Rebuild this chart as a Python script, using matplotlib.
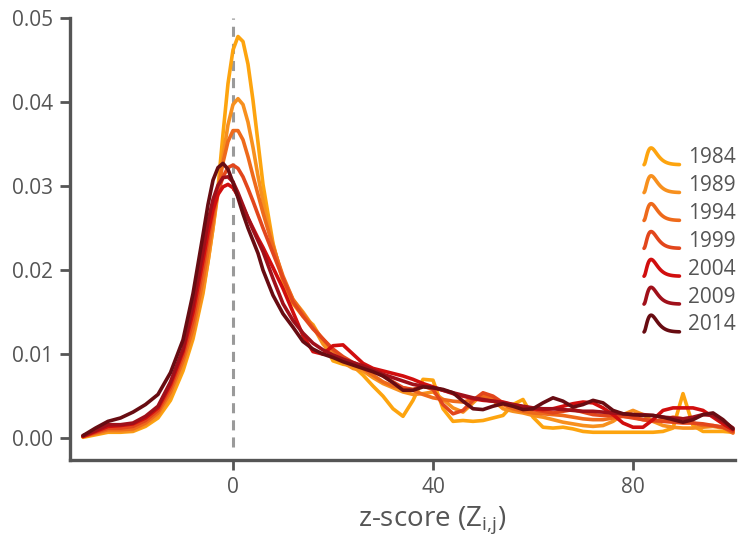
import numpy as np
import matplotlib
matplotlib.use("Agg")
import matplotlib.pyplot as plt
from matplotlib.legend_handler import HandlerBase
from matplotlib.lines import Line2D

plt.rcParams['font.family'] = ['Open Sans', 'DejaVu Sans']

years = ["1984", "1989", "1994", "1999", "2004", "2009", "2014"]
colors = ["#FDA40F", "#F7901E", "#EE6A1B", "#E2461C", "#D10E0E", "#A0101A", "#680C12"]

x_left = [-30, -27.5, -25, -22.5, -20, -17.5, -15, -12.5, -10]
x_peak = [-8, -6, -5, -4, -3, -2, -1, 0, 1, 2, 3, 4, 5, 6, 8, 10]
x_tail = list(range(12, 101, 2))
zscore = np.array(x_left + x_peak + x_tail, dtype=float)

d1984 = ([.0001, .0004, .0007, .0007, .0008, .0014, .0024, .0045, .0080]
         + [.0118, .0172, .0210, .0250, .0298, .0362, .0422, .0462, .0478, .0472, .0445, .0402, .0352, .0302, .0232, .0186]
         + [.0160, .0145, .0135, .0115, .0092, .0088, .0086, .0075, .0062, .0050, .0035, .0026, .0045, .0070, .0069,
            .0035, .0020, .0021, .0020, .0021, .0024, .0027, .0040, .0046, .0025, .0013, .0012, .0013, .0011, .0008,
            .0007, .0007, .0007, .0007, .0007, .0007, .0007, .0008, .0012, .0053, .0015, .0008, .0008, .0008, .0007])
d1989 = ([.0002, .0005, .0008, .0008, .0009, .0016, .0027, .0050, .0086]
         + [.0122, .0176, .0210, .0250, .0292, .0335, .0373, .0397, .0404, .0397, .0376, .0346, .0312, .0282, .0230, .0190]
         + [.0165, .0150, .0133, .0112, .0098, .0090, .0083, .0080, .0072, .0065, .0060, .0055, .0052, .0053, .0055,
            .0046, .0036, .0031, .0042, .0053, .0045, .0035, .0032, .0030, .0027, .0025, .0022, .0019, .0017, .0015,
            .0014, .0015, .0020, .0028, .0033, .0028, .0020, .0015, .0013, .0012, .0012, .0013, .0014, .0012, .0009])
d1994 = ([.0002, .0006, .0010, .0010, .0011, .0018, .0030, .0055, .0092]
         + [.0130, .0188, .0222, .0258, .0295, .0328, .0353, .0366, .0366, .0355, .0335, .0312, .0290, .0268, .0228, .0193]
         + [.0165, .0148, .0132, .0118, .0104, .0095, .0088, .0083, .0075, .0067, .0062, .0060, .0057, .0052, .0048,
            .0046, .0044, .0043, .0046, .0050, .0047, .0040, .0035, .0032, .0030, .0029, .0028, .0027, .0025, .0023,
            .0022, .0022, .0024, .0026, .0025, .0022, .0020, .0022, .0025, .0023, .0018, .0015, .0015, .0013, .0006])
d1999 = ([.0002, .0007, .0012, .0012, .0014, .0021, .0033, .0060, .0098]
         + [.0140, .0202, .0237, .0268, .0293, .0311, .0322, .0325, .0321, .0311, .0297, .0282, .0266, .0250, .0220, .0190]
         + [.0162, .0145, .0130, .0118, .0106, .0097, .0090, .0085, .0080, .0074, .0067, .0060, .0058, .0062, .0058,
            .0040, .0029, .0033, .0045, .0054, .0050, .0042, .0038, .0036, .0034, .0032, .0030, .0032, .0034, .0031,
            .0028, .0027, .0027, .0026, .0024, .0022, .0021, .0020, .0019, .0018, .0018, .0017, .0015, .0013, .0008])
d2004 = ([.0002, .0008, .0014, .0015, .0017, .0024, .0036, .0064, .0103]
         + [.0150, .0212, .0245, .0272, .0290, .0299, .0302, .0298, .0288, .0275, .0262, .0250, .0238, .0227, .0203, .0178]
         + [.0150, .0122, .0103, .0100, .0110, .0111, .0100, .0089, .0083, .0080, .0077, .0074, .0070, .0065, .0061,
            .0057, .0053, .0050, .0047, .0045, .0044, .0043, .0040, .0037, .0035, .0034, .0035, .0038, .0041, .0043,
            .0042, .0036, .0028, .0018, .0013, .0013, .0022, .0033, .0036, .0036, .0036, .0033, .0025, .0017, .0010])
d2009 = ([.0003, .0009, .0016, .0016, .0018, .0026, .0038, .0067, .0106]
         + [.0158, .0222, .0258, .0284, .0301, .0310, .0311, .0305, .0292, .0277, .0262, .0248, .0235, .0222, .0190, .0160]
         + [.0140, .0125, .0113, .0105, .0099, .0094, .0090, .0086, .0081, .0076, .0072, .0068, .0064, .0062, .0060,
            .0057, .0054, .0051, .0048, .0046, .0044, .0042, .0040, .0038, .0036, .0035, .0035, .0034, .0033, .0032,
            .0032, .0031, .0030, .0029, .0028, .0028, .0027, .0025, .0024, .0023, .0025, .0028, .0027, .0020, .0012])
d2014 = ([.0003, .0012, .0020, .0024, .0031, .0040, .0052, .0078, .0117]
         + [.0172, .0242, .0278, .0307, .0322, .0327, .0320, .0304, .0286, .0267, .0250, .0235, .0220, .0200, .0170, .0148]
         + [.0132, .0115, .0106, .0100, .0096, .0091, .0087, .0083, .0079, .0074, .0066, .0057, .0057, .0061, .0060,
            .0058, .0054, .0044, .0035, .0034, .0038, .0041, .0038, .0034, .0035, .0042, .0048, .0044, .0037, .0040,
            .0045, .0042, .0033, .0029, .0028, .0027, .0027, .0025, .0022, .0019, .0022, .0028, .0030, .0022, .0011])

series = [d1984, d1989, d1994, d1999, d2004, d2009, d2014]

AX_COLOR = "#555555"

fig = plt.figure(figsize=(7.39, 5.52), dpi=100)
ax = fig.add_axes([70/739, 92/552, 665/739, 442/552])

ax.axvline(0, ymin=0.03, ymax=1.0, color="#9a9a9a", lw=2.2, ls=(0, (3.3, 2.3)), zorder=1)

for yr, c, d in zip(years, colors, series):
    ax.plot(zscore, d, color=c, lw=2.6, solid_joinstyle="round", solid_capstyle="round", label=yr, zorder=2)

ax.set_xlim(-32.6, 100.4)
ax.set_ylim(-0.0026, 0.05)
ax.set_xticks([0, 40, 80])
ax.set_yticks([0.0, 0.01, 0.02, 0.03, 0.04, 0.05])
ax.set_yticklabels(["0.00", "0.01", "0.02", "0.03", "0.04", "0.05"])
for s in ["top", "right"]:
    ax.spines[s].set_visible(False)
for s in ["left", "bottom"]:
    ax.spines[s].set_color(AX_COLOR)
    ax.spines[s].set_linewidth(2.4)
ax.tick_params(axis="both", direction="out", length=7, width=2, color=AX_COLOR,
               labelcolor=AX_COLOR, labelsize=15, pad=5)

ax.set_xlabel(r"z-score (Z$_{\mathregular{i{,}j}}$)", fontsize=20, color=AX_COLOR, labelpad=6)
ax.xaxis.set_label_coords(0.545, -0.1)


class CurveHandler(HandlerBase):
    def create_artists(self, legend, orig_handle, xdescent, ydescent, width, height, fontsize, trans):
        t = np.linspace(0, 1, 60)
        p = 0.2
        shape = (t / p) ** 2 * np.exp(2 * (1 - t / p))
        xs = -xdescent + t * width
        ys = -ydescent + (shape * 1.15 - 0.1) * height
        ln = Line2D(xs, ys, color=orig_handle.get_color(), lw=2.6,
                    solid_capstyle="round", solid_joinstyle="round")
        ln.set_transform(trans)
        return [ln]


handles = ax.get_lines()[1:]
leg = ax.legend(handles, years, handler_map={Line2D: CurveHandler()},
                loc="upper left", bbox_to_anchor=(0.835, 0.75), frameon=False,
                fontsize=15, handlelength=1.7, handletextpad=0.4, labelspacing=0.33,
                labelcolor=AX_COLOR)

fig.savefig("out.png", dpi=100)
